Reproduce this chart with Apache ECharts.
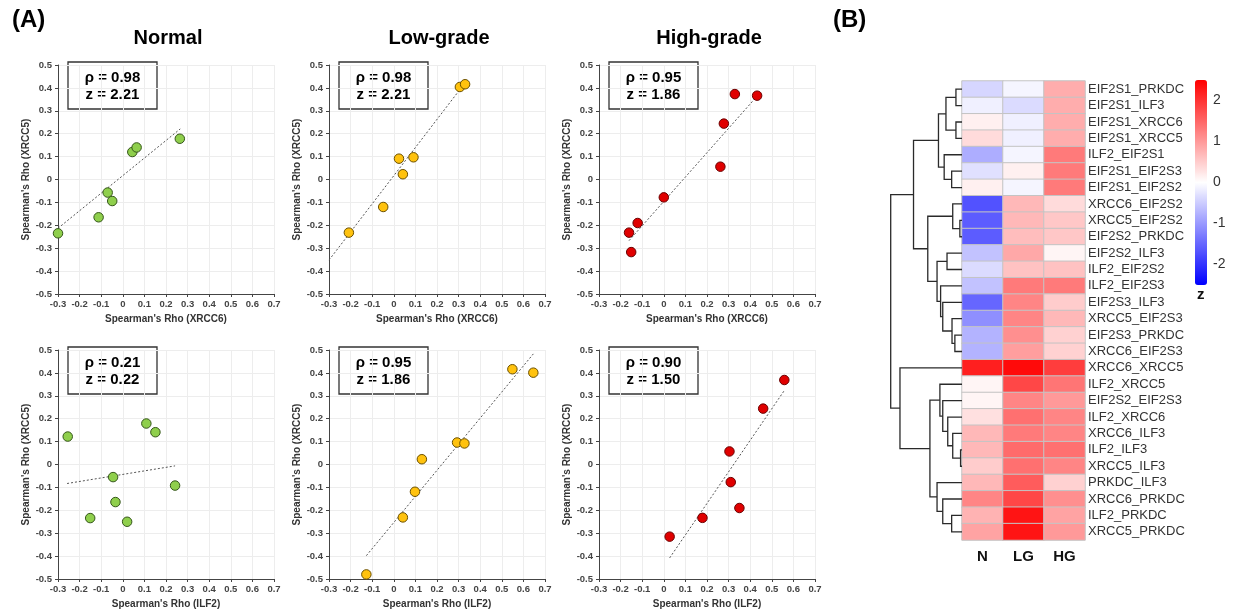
<!DOCTYPE html>
<html>
<head>
<meta charset="utf-8">
<script src="https://cdn.jsdelivr.net/npm/echarts@6/dist/echarts.min.js"></script>
<style>
  html, body { margin: 0; padding: 0; background: #fff; }
  #chart { width: 1233px; height: 616px; }
</style>
</head>
<body>
<div id="chart"></div>
<script>
// scatter points [x, y]
var normalXRCC6 = [[-0.30, -0.235], [-0.112, -0.165], [-0.070, -0.057], [-0.049, -0.094], [0.044, 0.120], [0.064, 0.140], [0.264, 0.178]];
var lowXRCC6 = [[-0.208, -0.232], [-0.049, -0.120], [0.024, 0.091], [0.042, 0.023], [0.091, 0.097], [0.306, 0.404], [0.330, 0.416]];
var highXRCC6 = [[-0.161, -0.232], [-0.151, -0.317], [-0.121, -0.190], [0.000, -0.078], [0.262, 0.056], [0.278, 0.244], [0.329, 0.373], [0.432, 0.366]];
var normalILF2 = [[-0.255, 0.122], [0.109, 0.179], [0.151, 0.141], [-0.045, -0.055], [0.242, -0.092], [-0.034, -0.164], [-0.151, -0.234], [0.020, -0.250]];
var lowILF2 = [[-0.127, -0.480], [0.042, -0.231], [0.098, -0.119], [0.130, 0.023], [0.293, 0.096], [0.327, 0.092], [0.549, 0.416], [0.646, 0.401]];
var highILF2 = [[0.027, -0.315], [0.179, -0.233], [0.304, 0.057], [0.310, -0.077], [0.350, -0.190], [0.460, 0.244], [0.558, 0.369]];

// trend line end points
var trendNormalXRCC6 = [[-0.30, -0.213], [0.266, 0.221]];
var trendLowXRCC6 = [[-0.30, -0.352], [0.32, 0.41]];
var trendHighXRCC6 = [[-0.161, -0.267], [0.43, 0.362]];
var trendNormalILF2 = [[-0.258, -0.083], [0.242, -0.006]];
var trendLowILF2 = [[-0.127, -0.398], [0.646, 0.483]];
var trendHighILF2 = [[0.027, -0.408], [0.56, 0.326]];

var rhoText = ['0.98', '0.98', '0.95', '0.21', '0.95', '0.90'];
var zText = ['2.21', '2.21', '1.86', '0.22', '1.86', '1.50'];
var groupTitles = ['Normal', 'Low-grade', 'High-grade'];
var xNames = ["Spearman's Rho (XRCC6)", "Spearman's Rho (ILF2)"];
var yName = "Spearman's Rho (XRCC5)";

// heatmap
var heatCols = ['N', 'LG', 'HG'];
var rowLabels = ['EIF2S1_PRKDC', 'EIF2S1_ILF3', 'EIF2S1_XRCC6', 'EIF2S1_XRCC5', 'ILF2_EIF2S1', 'EIF2S1_EIF2S3', 'EIF2S1_EIF2S2',
  'XRCC6_EIF2S2', 'XRCC5_EIF2S2', 'EIF2S2_PRKDC', 'EIF2S2_ILF3', 'ILF2_EIF2S2', 'ILF2_EIF2S3', 'EIF2S3_ILF3',
  'XRCC5_EIF2S3', 'EIF2S3_PRKDC', 'XRCC6_EIF2S3', 'XRCC6_XRCC5', 'ILF2_XRCC5', 'EIF2S2_EIF2S3', 'ILF2_XRCC6',
  'XRCC6_ILF3', 'ILF2_ILF3', 'XRCC5_ILF3', 'PRKDC_ILF3', 'XRCC6_PRKDC', 'ILF2_PRKDC', 'XRCC5_PRKDC'];
var zN = [-0.4, -0.15, 0.15, 0.35, -0.8, -0.3, 0.15, -1.7, -1.6, -1.6, -0.6, -0.35, -0.6, -1.5, -1.1, -0.75, -0.75, 2.2, 0.1, 0.1, 0.3, 0.7, 0.7, 0.5, 0.7, 1.2, 0.75, 0.9];
var zLG = [-0.1, -0.35, -0.15, -0.15, -0.1, 0.15, -0.1, 0.7, 0.7, 0.65, 0.85, 0.6, 1.3, 1.2, 1.2, 1.1, 0.95, 2.4, 1.8, 1.2, 1.4, 1.3, 1.45, 1.4, 1.6, 1.8, 2.3, 2.3];
var zHG = [0.8, 0.8, 0.8, 0.8, 1.3, 1.3, 1.3, 0.35, 0.55, 0.55, 0.1, 0.6, 1.3, 0.5, 0.7, 0.45, 0.45, 1.9, 1.35, 1.0, 1.2, 1.2, 1.4, 1.2, 0.45, 1.1, 0.9, 1.0];
var colorbarTicks = [-2, -1, 0, 1, 2];

// row dendrogram: [childA, childB, height], leaves 0..27, new clusters 28..
var merges = [
  [0, 1, 0.085], [2, 3, 0.085], [28, 29, 0.225], [5, 6, 0.145], [4, 31, 0.25], [30, 32, 0.33],
  [8, 9, 0.03], [7, 34, 0.13], [10, 11, 0.21], [15, 16, 0.10], [14, 37, 0.14], [13, 38, 0.27],
  [12, 39, 0.30], [36, 40, 0.35], [35, 41, 0.48], [33, 42, 0.68],
  [22, 23, 0.02], [21, 44, 0.13], [20, 45, 0.20], [19, 46, 0.27], [18, 47, 0.31],
  [26, 27, 0.145], [25, 49, 0.27], [24, 50, 0.35], [48, 51, 0.45], [17, 52, 0.87], [43, 53, 1.0]
];

var FONT = 'Liberation Sans, Arial, sans-serif';
var myChart = echarts.init(document.getElementById('chart'));

var panels = [
  { data: normalXRCC6, trend: trendNormalXRCC6, fill: '#8fcf4c', border: '#35561a', col: 0, row: 0 },
  { data: lowXRCC6, trend: trendLowXRCC6, fill: '#ffc20e', border: '#6b5000', col: 1, row: 0 },
  { data: highXRCC6, trend: trendHighXRCC6, fill: '#e00000', border: '#6a0000', col: 2, row: 0 },
  { data: normalILF2, trend: trendNormalILF2, fill: '#8fcf4c', border: '#35561a', col: 0, row: 1 },
  { data: lowILF2, trend: trendLowILF2, fill: '#ffc20e', border: '#6b5000', col: 1, row: 1 },
  { data: highILF2, trend: trendHighILF2, fill: '#e00000', border: '#6a0000', col: 2, row: 1 }
];
var colLeft = [58, 329, 599];
var rowTop = [65, 350];
var pw = 216, ph = 229;

function tickFmt(v) { return String(Math.round(v * 10) / 10); }

var grids = [], xAxes = [], yAxes = [], series = [], graphics = [];

panels.forEach(function (p, i) {
  var left = colLeft[p.col], top = rowTop[p.row];
  grids.push({ left: left, top: top, width: pw, height: ph });
  xAxes.push({
    gridIndex: i, type: 'value', min: -0.3, max: 0.7, interval: 0.1,
    name: xNames[p.row], nameLocation: 'middle', nameGap: 20,
    nameTextStyle: { fontFamily: FONT, fontWeight: 'bold', fontSize: 10, color: '#333' },
    axisLine: { onZero: false, lineStyle: { color: '#444' } },
    axisTick: { show: true, length: 3, lineStyle: { color: '#444' } },
    axisLabel: { fontFamily: FONT, fontSize: 9.5, fontWeight: 'bold', color: '#444', margin: 5, formatter: tickFmt },
    splitLine: { show: true, lineStyle: { color: '#ededed' } }
  });
  yAxes.push({
    gridIndex: i, type: 'value', min: -0.5, max: 0.5, interval: 0.1,
    name: yName, nameLocation: 'middle', nameGap: 25,
    nameTextStyle: { fontFamily: FONT, fontWeight: 'bold', fontSize: 10, color: '#333' },
    axisLine: { show: true, onZero: false, lineStyle: { color: '#444' } },
    axisTick: { show: true, length: 3, lineStyle: { color: '#444' } },
    axisLabel: { fontFamily: FONT, fontSize: 9.5, fontWeight: 'bold', color: '#444', margin: 6, formatter: tickFmt },
    splitLine: { show: true, lineStyle: { color: '#ededed' } }
  });
  series.push({
    type: 'line', xAxisIndex: i, yAxisIndex: i, data: p.trend, symbol: 'none', silent: true,
    lineStyle: { color: '#555', width: 1, type: [2, 2] }, z: 2
  });
  series.push({
    type: 'scatter', xAxisIndex: i, yAxisIndex: i, data: p.data, symbolSize: 9.5,
    itemStyle: { color: p.fill, borderColor: p.border, borderWidth: 1, opacity: 1 }, z: 3
  });
  // annotation box
  graphics.push({
    type: 'group', x: left + 10, y: top - 3,
    children: [
      { type: 'rect', shape: { x: 0, y: 0, width: 89, height: 47 }, style: { fill: '#fff', stroke: '#333', lineWidth: 1.3 } },
      { type: 'text', x: 44.5, y: 15.5, style: { text: '\u03c1 = ' + rhoText[i], font: 'bold 15px ' + FONT, fill: '#000', textAlign: 'center', textVerticalAlign: 'middle' } },
      { type: 'text', x: 44.5, y: 32.5, style: { text: 'z = ' + zText[i], font: 'bold 15px ' + FONT, fill: '#000', textAlign: 'center', textVerticalAlign: 'middle' } }
    ],
    z: 100
  });
});

// heatmap grid
var hmGrid = grids.length;
grids.push({ left: 962, top: 81, width: 123, height: 459 });
xAxes.push({
  gridIndex: hmGrid, type: 'category', data: heatCols, position: 'bottom',
  axisLine: { show: false }, axisTick: { show: false },
  axisLabel: { fontFamily: FONT, fontSize: 15, fontWeight: 'bold', color: '#111', margin: 9 },
  splitLine: { show: false }
});
yAxes.push({
  gridIndex: hmGrid, type: 'category', data: rowLabels, inverse: true, position: 'right',
  axisLine: { show: false }, axisTick: { show: false },
  axisLabel: { interval: 0, fontFamily: FONT, fontSize: 13, color: '#333', margin: 3 },
  splitLine: { show: false }
});
var heatData = [];
rowLabels.forEach(function (r, j) {
  heatData.push([0, j, zN[j]]);
  heatData.push([1, j, zLG[j]]);
  heatData.push([2, j, zHG[j]]);
});
var heatIndex = series.length;
series.push({
  type: 'heatmap', xAxisIndex: hmGrid, yAxisIndex: hmGrid, data: heatData,
  itemStyle: { borderColor: '#c4c4c4', borderWidth: 1 }
});

// dendrogram grid
var dgGrid = grids.length;
grids.push({ left: 885, top: 81, width: 77, height: 459 });
xAxes.push({ gridIndex: dgGrid, type: 'value', min: 0, max: 1.08, inverse: true, show: false });
yAxes.push({ gridIndex: dgGrid, type: 'value', min: -0.5, max: rowLabels.length - 0.5, inverse: true, show: false });
var nodeY = [], nodeH = [];
rowLabels.forEach(function (r, j) { nodeY.push(j); nodeH.push(0); });
var dendroData = merges.map(function (m) {
  var a = m[0], b = m[1];
  var d = [nodeH[a], nodeY[a], nodeH[b], nodeY[b], m[2]];
  nodeY.push((nodeY[a] + nodeY[b]) / 2);
  nodeH.push(m[2]);
  return d;
});
series.push({
  type: 'custom', xAxisIndex: dgGrid, yAxisIndex: dgGrid, data: dendroData, silent: true,
  encode: { x: [0, 2, 4], y: [1, 3] },
  renderItem: function (params, api) {
    var p1 = api.coord([api.value(0), api.value(1)]);
    var p2 = api.coord([api.value(4), api.value(1)]);
    var p3 = api.coord([api.value(4), api.value(3)]);
    var p4 = api.coord([api.value(2), api.value(3)]);
    return { type: 'polyline', shape: { points: [p1, p2, p3, p4] }, style: { stroke: '#2a2a2a', lineWidth: 1.3, fill: null } };
  }
});

// colorbar tick axis
var cbGrid = grids.length;
grids.push({ left: 1195, top: 80, width: 12, height: 205 });
xAxes.push({ gridIndex: cbGrid, type: 'value', show: false, min: 0, max: 1 });
yAxes.push({
  gridIndex: cbGrid, type: 'value', min: -2.5, max: 2.5, position: 'right',
  axisLine: { show: false }, axisTick: { show: false }, splitLine: { show: false },
  axisLabel: { customValues: colorbarTicks, fontFamily: FONT, fontSize: 14, color: '#333', margin: 6 }
});

graphics.push({
  type: 'text', left: 1197, top: 287,
  style: { text: 'z', font: 'bold 15px ' + FONT, fill: '#111' }
});

var titles = [
  { text: '(A)', left: 12, top: 8, padding: 0, textStyle: { fontFamily: FONT, fontSize: 24, fontWeight: 'bold', color: '#000' } },
  { text: '(B)', left: 833, top: 8, padding: 0, textStyle: { fontFamily: FONT, fontSize: 24, fontWeight: 'bold', color: '#000' } }
];
groupTitles.forEach(function (t, k) {
  titles.push({
    text: t, left: colLeft[k] + pw / 2 + 2, textAlign: 'center', top: 28, padding: 0,
    textStyle: { fontFamily: FONT, fontSize: 20, fontWeight: 'bold', color: '#000' }
  });
});

var option = {
  backgroundColor: '#fff',
  animation: false,
  title: titles,
  grid: grids,
  xAxis: xAxes,
  yAxis: yAxes,
  visualMap: {
    type: 'continuous', min: -2.5, max: 2.5, calculable: false, seriesIndex: heatIndex,
    left: 1195, top: 80, itemWidth: 12, itemHeight: 205, padding: 0, text: null,
    inRange: { color: ['#0000ff', '#ffffff', '#ff0000'] }
  },
  graphic: graphics,
  series: series
};

myChart.setOption(option);
</script>
</body>
</html>
